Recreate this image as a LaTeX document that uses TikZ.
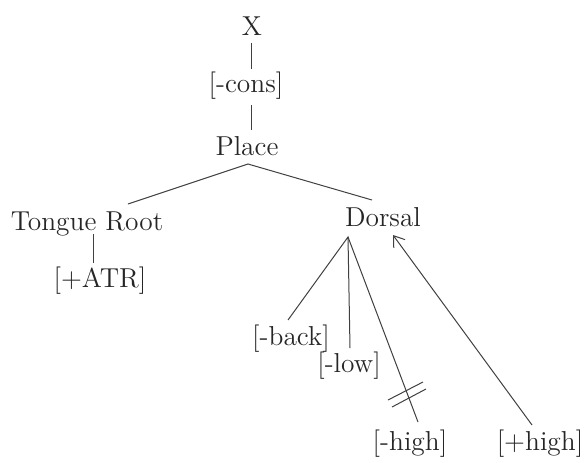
\documentclass[tikz,border=0pt]{standalone}
\usetikzlibrary{arrows.meta,calc}
\begin{document}
\begin{tikzpicture}[x=0.5pt,y=-0.5pt,
  lab/.style={anchor=base,inner sep=0pt,text=black!85,font=\fontsize{13.7}{16}\selectfont},
  edge/.style={line width=0.5pt,draw=black!75},
  arr/.style={edge,-{Straight Barb[length=5pt,width=7pt]}}]
\useasboundingbox (0,0) rectangle (584,462);
% nodes
\node[lab] (x) at (252,35) {X};
\node[lab] (cons) at (246,92) {[-cons]};
\node[lab] (place) at (247,155) {Place};
\node[lab] (tr) at (87,230) {Tongue Root};
\node[lab] (atr) at (100,287) {[+ATR]};
\node[lab] (dorsal) at (383,226) {Dorsal};
\node[lab] (back) at (291,345) {[-back]};
\node[lab] (low) at (349,372) {[-low]};
\node[lab] (mhigh) at (410,450) {[-high]};
\node[lab] (phigh) at (540,450) {[+high]};
% connector ends
\coordinate (xB) at (251,43);
\coordinate (consT) at (251,69);
\coordinate (consB) at (251,105);
\coordinate (placeT) at (251,130);
\coordinate (placeB) at (248,164);
\coordinate (trT) at (128,204);
\coordinate (dorsT) at (372,200);
\coordinate (trB) at (93,234);
\coordinate (atrT) at (93,263);
\coordinate (dorsB) at (348,237);
\coordinate (dorsR) at (393,235);
\coordinate (backT) at (288,320);
\coordinate (lowT) at (350,348);
\coordinate (mhighT) at (418,422);
\coordinate (phighT) at (532,425);
% connectors
\draw[edge] (xB) -- (consT);
\draw[edge] (consB) -- (placeT);
\draw[edge] (trT) -- (placeB) -- (dorsT);
\draw[edge] (trB) -- (atrT);
\draw[edge] (backT) -- (dorsB) -- (lowT);
\draw[edge] (dorsB) -- (mhighT);
\draw[arr] (phighT) -- (dorsR);
% delinking marks
\draw[edge] (388,400) -- (423,382);
\draw[edge] (392,407) -- (426,389);
\end{tikzpicture}
\end{document}
